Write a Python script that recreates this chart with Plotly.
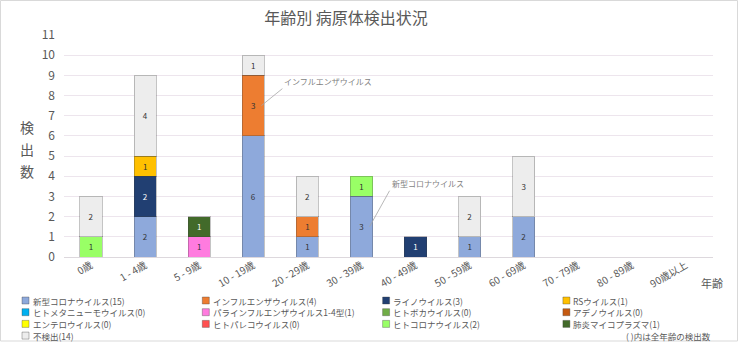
import plotly.graph_objects as go

# Age groups on the x axis
categories = ["0歳", "1 - 4歳", "5 - 9歳", "10 - 19歳", "20 - 29歳", "30 - 39歳",
              "40 - 49歳", "50 - 59歳", "60 - 69歳", "70 - 79歳", "80 - 89歳", "90歳以上"]

# Detection counts per pathogen, one value per age group
covid19   = [0, 2, 0, 6, 1, 3, 0, 1, 2, 0, 0, 0]
influenza = [0, 0, 0, 3, 1, 0, 0, 0, 0, 0, 0, 0]
rhino     = [0, 2, 0, 0, 0, 0, 1, 0, 0, 0, 0, 0]
rsv       = [0, 1, 0, 0, 0, 0, 0, 0, 0, 0, 0, 0]
hmpv      = [0, 0, 0, 0, 0, 0, 0, 0, 0, 0, 0, 0]
parainflu = [0, 0, 1, 0, 0, 0, 0, 0, 0, 0, 0, 0]
boca      = [0, 0, 0, 0, 0, 0, 0, 0, 0, 0, 0, 0]
adeno     = [0, 0, 0, 0, 0, 0, 0, 0, 0, 0, 0, 0]
entero    = [0, 0, 0, 0, 0, 0, 0, 0, 0, 0, 0, 0]
parecho   = [0, 0, 0, 0, 0, 0, 0, 0, 0, 0, 0, 0]
hcov      = [1, 0, 0, 0, 0, 1, 0, 0, 0, 0, 0, 0]
mycoplasma= [0, 0, 1, 0, 0, 0, 0, 0, 0, 0, 0, 0]
negative  = [2, 4, 0, 1, 2, 0, 0, 2, 3, 0, 0, 0]

series_names = ["新型コロナウイルス", "インフルエンザウイルス", "ライノウイルス", "RSウイルス",
                "ヒトメタニューモウイルス", "パラインフルエンザウイルス1-4型", "ヒトボカウイルス",
                "アデノウイルス", "エンテロウイルス", "ヒトパレコウイルス", "ヒトコロナウイルス",
                "肺炎マイコプラズマ", "不検出"]
series_values = [covid19, influenza, rhino, rsv, hmpv, parainflu, boca, adeno,
                 entero, parecho, hcov, mycoplasma, negative]
series_colors = ["#8EA9DB", "#ED7D31", "#213F72", "#FFC000", "#00B0F0", "#FF7BDF",
                 "#70AD47", "#C55A11", "#FFFF00", "#FF5050", "#99FF66", "#426A2A", "#EDEDED"]
label_colors = ["#333333", "#333333", "#FFFFFF", "#333333", "#333333", "#333333",
                "#333333", "#333333", "#333333", "#333333", "#333333", "#FFFFFF", "#333333"]

FONT = "Noto Sans CJK JP"
GRAY = "#595959"

W, H = 740, 342
L, R, T, B = 64, 27, 35, 85
PW, PH = W - L - R, H - T - B


def px_x(p):
    return (p - L) / PW


def px_y(p):
    return (H - B - p) / PH


fig = go.Figure()
for name, vals, col, tcol in zip(series_names, series_values, series_colors, label_colors):
    fig.add_trace(go.Bar(
        x=categories,
        y=[v if v else None for v in vals],
        name=name,
        marker=dict(color=col, line=dict(color="rgba(60,60,60,0.3)", width=1)),
        text=[str(v) if v else "" for v in vals],
        textposition="inside",
        insidetextanchor="middle",
        textangle=0,
        textfont=dict(family=FONT, size=8, color=tcol),
        showlegend=False,
        hoverinfo="skip",
    ))

shapes = []
annotations = []

# Legend: 4 columns, entries laid out row by row
col_step, row_step = 180.3, 11.7
for i, (name, vals, col) in enumerate(zip(series_names, series_values, series_colors)):
    r, c = divmod(i, 4)
    sx = 22 + c * col_step
    sy = 300.5 + r * row_step
    shapes.append(dict(type="rect", xref="paper", yref="paper",
                       x0=px_x(sx), x1=px_x(sx + 7), y0=px_y(sy + 3.5), y1=px_y(sy - 3.5),
                       fillcolor=col, line=dict(color="rgba(60,60,60,0.35)", width=1)))
    annotations.append(dict(xref="paper", yref="paper", x=px_x(sx + 8.5), y=px_y(sy),
                            xanchor="left", yanchor="middle", showarrow=False,
                            text=f"{name}({sum(vals)})",
                            font=dict(family=FONT, size=8.5, color=GRAY)))

annotations.append(dict(xref="paper", yref="paper", x=px_x(713), y=px_y(336),
                        xanchor="right", yanchor="middle", showarrow=False,
                        text="( )内は全年齢の検出数",
                        font=dict(family=FONT, size=8.5, color=GRAY)))

# Vertical y-axis title, one character per line
for k, ch in enumerate("検出数"):
    annotations.append(dict(xref="paper", yref="paper", x=px_x(27), y=px_y(127 + 22 * k),
                            xanchor="center", yanchor="middle", showarrow=False, text=ch,
                            font=dict(family=FONT, size=14, color=GRAY)))

# x-axis title
annotations.append(dict(xref="paper", yref="paper", x=px_x(712), y=px_y(283),
                        xanchor="center", yanchor="middle", showarrow=False, text="年齢",
                        font=dict(family=FONT, size=11, color=GRAY)))

# Callouts for the labelled segments
half_bar = 0.205
for sidx, cidx, dx, dy in [(1, 3, 21, -17), (0, 5, 20, -36)]:
    base = sum(series_values[j][cidx] for j in range(sidx))
    mid = base + series_values[sidx][cidx] / 2
    annotations.append(dict(x=cidx + half_bar, y=mid, xref="x", yref="y",
                            ax=dx, ay=dy, showarrow=True, arrowhead=0, arrowwidth=0.8,
                            arrowcolor="#A6A6A6", xanchor="left", yanchor="bottom",
                            xshift=-3,
                            text=series_names[sidx],
                            font=dict(family=FONT, size=8, color="#7F7F7F")))

# Frame around the whole figure
shapes.append(dict(type="rect", xref="paper", yref="paper",
                   x0=px_x(0.5), x1=px_x(W - 2.5), y0=px_y(H - 1), y1=px_y(0.5),
                   line=dict(color="#D9D9D9", width=1), fillcolor="rgba(0,0,0,0)"))

fig.update_layout(
    width=W, height=H,
    margin=dict(l=L, r=R, t=T, b=B),
    barmode="stack",
    bargap=0.59,
    paper_bgcolor="#FFFFFF",
    plot_bgcolor="#FFFFFF",
    font=dict(family=FONT, color=GRAY),
    title=dict(text="年齢別 病原体検出状況", x=px_x(367.5), xanchor="center",
               y=1 - 18 / H, yanchor="middle",
               font=dict(family=FONT, size=16, color=GRAY)),
    shapes=shapes,
    annotations=annotations,
    uniformtext=dict(mode=False),
)
fig.update_xaxes(
    type="category", tickangle=-30, showgrid=False, showline=False,
    tickfont=dict(family=FONT, size=10, color=GRAY), ticks="",
)
fig.update_yaxes(
    range=[0, 11], dtick=1, showgrid=True, gridcolor="#EDE5ED", gridwidth=1,
    zeroline=True, zerolinecolor="#DDD8DD", zerolinewidth=1,
    tickfont=dict(family=FONT, size=12, color=GRAY), ticks="", ticklabelstandoff=8,
)

fig.write_html("out.html")
